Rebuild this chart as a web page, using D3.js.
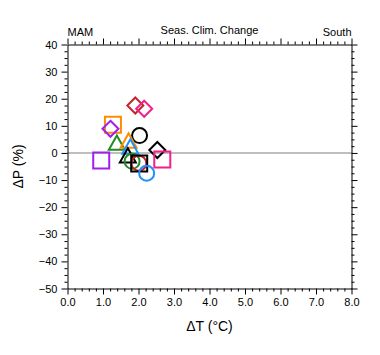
<!DOCTYPE html>
<html>
<head>
<meta charset="utf-8">
<script src="https://cdn.jsdelivr.net/npm/d3@7"></script>
<style>
html,body{margin:0;padding:0;background:#fff;}
svg{display:block;font-family:"Liberation Sans",Arial,Helvetica,sans-serif;}
</style>
</head>
<body>
<svg id="chart" width="380" height="355"></svg>
<script>
// ---- data ----
const pointX      = [1.91, 2.16, 1.28, 1.21, 2.03, 1.39, 1.72, 1.77, 2.53, 0.95, 2.67, 1.70, 1.82, 2.01, 2.02, 2.23];
const pointY      = [17.5, 16.3, 10.4, 8.9, 6.4, 3.8, 4.6, 2.4, 1.1, -2.8, -2.4, -0.9, -3.1, -3.8, -3.9, -7.5];
const pointShape  = ["diamond","diamond","square","diamond","circle","triangle","triangle","triangle","diamond","square","square","triangle","circle","circle","square","circle"];
const pointColor  = ["#c0262c","#f0208c","#ff8c00","#a020f0","#000000","#228b22","#ff8c00","#1e90ff","#000000","#a020f0","#f0208c","#000000","#228b22","#c0262c","#000000","#1e90ff"];
const xTickValues = [0,1,2,3,4,5,6,7,8];
const yTickValues = [40,30,20,10,0,-10,-20,-30,-40,-50];
const titleLeft = "MAM", titleCenter = "Seas. Clim. Change", titleRight = "South";
const xLabel = "\u0394T (\u00B0C)", yLabel = "\u0394P (%)";

// ---- layout ----
const svg = d3.select("#chart");
const L = 67.5, R = 351.5, T = 44.5, B = 288.5;
const x = d3.scaleLinear().domain([0, 8]).range([L, R]);
const y = d3.scaleLinear().domain([-50, 40]).range([B, T]);

const g = svg.append("g");

// zero line
g.append("line").attr("x1", L).attr("x2", R).attr("y1", y(0)).attr("y2", y(0))
  .attr("stroke", "#aaaaaa").attr("stroke-width", 1.5);

// minor ticks
const xMinor = d3.range(0, 8.0001, 0.2).filter(v => Math.abs(v - Math.round(v)) > 1e-6);
const yMinor = d3.range(-50, 40.0001, 2.5).filter(v => Math.abs(v/10 - Math.round(v/10)) > 1e-6);

function axisStyle(sel){
  sel.select(".domain").attr("stroke","#000").attr("stroke-width",1);
  sel.selectAll(".tick line").attr("stroke","#000").attr("stroke-width",1);
}

const fmtX = d3.format(".1f");
// bottom
g.append("g").attr("transform",`translate(0,${B})`)
  .call(d3.axisBottom(x).tickValues(xTickValues).tickFormat(fmtX).tickSizeInner(6).tickSizeOuter(0).tickPadding(4))
  .call(axisStyle)
  .call(s => s.selectAll("text").attr("font-size", 11).attr("fill","#000").attr("font-family","Liberation Sans, Arial, sans-serif"));
g.append("g").attr("transform",`translate(0,${B})`)
  .call(d3.axisBottom(x).tickValues(xMinor).tickFormat("").tickSizeInner(3).tickSizeOuter(0))
  .call(axisStyle).call(s => s.select(".domain").remove());
// top
g.append("g").attr("transform",`translate(0,${T})`)
  .call(d3.axisTop(x).tickValues(xTickValues).tickFormat("").tickSizeInner(6).tickSizeOuter(0))
  .call(axisStyle);
g.append("g").attr("transform",`translate(0,${T})`)
  .call(d3.axisTop(x).tickValues(xMinor).tickFormat("").tickSizeInner(3).tickSizeOuter(0))
  .call(axisStyle).call(s => s.select(".domain").remove());
// left
g.append("g").attr("transform",`translate(${L},0)`)
  .call(d3.axisLeft(y).tickValues(yTickValues).tickFormat(d3.format("d")).tickSizeInner(6).tickSizeOuter(0).tickPadding(4))
  .call(axisStyle)
  .call(s => s.selectAll("text").attr("font-size", 11).attr("fill","#000").attr("font-family","Liberation Sans, Arial, sans-serif"));
g.append("g").attr("transform",`translate(${L},0)`)
  .call(d3.axisLeft(y).tickValues(yMinor).tickFormat("").tickSizeInner(3).tickSizeOuter(0))
  .call(axisStyle).call(s => s.select(".domain").remove());
// right
g.append("g").attr("transform",`translate(${R},0)`)
  .call(d3.axisRight(y).tickValues(yTickValues).tickFormat("").tickSizeInner(6).tickSizeOuter(0))
  .call(axisStyle);
g.append("g").attr("transform",`translate(${R},0)`)
  .call(d3.axisRight(y).tickValues(yMinor).tickFormat("").tickSizeInner(3).tickSizeOuter(0))
  .call(axisStyle).call(s => s.select(".domain").remove());

// markers
function shapePath(shape){
  const h = 8;
  if (shape === "square") return `M${-h},${-h}H${h}V${h}H${-h}Z`;
  if (shape === "diamond") return `M0,${-h}L${h},0L0,${h}L${-h},0Z`;
  if (shape === "triangle") return `M0,${-7.2}L${8},${7.2}L${-8},${7.2}Z`;
  return null;
}
const pts = pointX.map((v,i) => ({x:v, y:pointY[i], shape:pointShape[i], color:pointColor[i]}));
const mk = g.append("g");
pts.forEach(p => {
  if (p.shape === "circle") {
    mk.append("circle").attr("cx", x(p.x)).attr("cy", y(p.y)).attr("r", 7.5)
      .attr("fill","none").attr("stroke",p.color).attr("stroke-width",2);
  } else {
    mk.append("path").attr("d", shapePath(p.shape))
      .attr("transform",`translate(${x(p.x)},${y(p.y)})`)
      .attr("fill","none").attr("stroke",p.color).attr("stroke-width",2).attr("stroke-linejoin","miter");
  }
});

// titles
const tf = "Liberation Sans, Arial, sans-serif";
svg.append("text").attr("x", L).attr("y", 36).attr("font-size", 11).attr("font-family",tf).text(titleLeft);
svg.append("text").attr("x", (L+R)/2).attr("y", 34).attr("text-anchor","middle").attr("font-size", 11).attr("font-family",tf).text(titleCenter);
svg.append("text").attr("x", R).attr("y", 36).attr("text-anchor","end").attr("font-size", 11).attr("font-family",tf).text(titleRight);
svg.append("text").attr("x", (L+R)/2).attr("y", 331).attr("text-anchor","middle").attr("font-size", 14).attr("font-family",tf).text(xLabel);
svg.append("text").attr("transform",`translate(23,${(T+B)/2}) rotate(-90)`).attr("text-anchor","middle").attr("font-size", 14).attr("font-family",tf).text(yLabel);
</script>
</body>
</html>
